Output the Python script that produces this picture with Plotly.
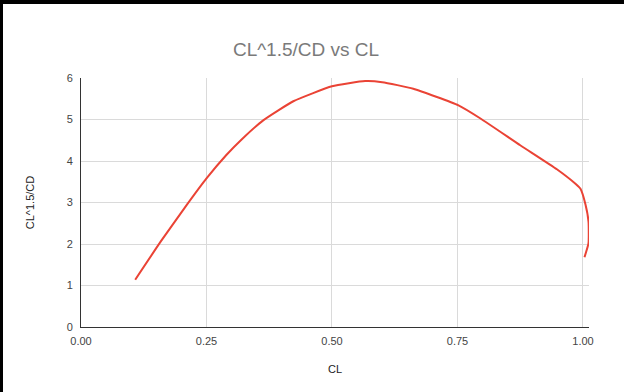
import plotly.graph_objects as go

# Lift coefficient and the endurance parameter CL^1.5/CD from the polar sweep
cl = [0.108, 0.160, 0.210, 0.250, 0.290, 0.320, 0.363, 0.423, 0.500, 0.566,
      0.600, 0.662, 0.752, 0.795, 0.875, 0.948, 0.985, 0.995, 1.005, 1.011,
      1.011, 1.003]
cl15_cd = [1.14, 2.08, 2.93, 3.58, 4.15, 4.52, 4.98, 5.44, 5.80, 5.925,
           5.90, 5.74, 5.34, 5.03, 4.38, 3.80, 3.45, 3.33, 2.95, 2.54,
           2.02, 1.68]

x_ticks = [0, 0.25, 0.5, 0.75, 1.0]
x_tick_text = ["0.00", "0.25", "0.50", "0.75", "1.00"]
y_ticks = [0, 1, 2, 3, 4, 5, 6]

W, H = 624, 392
L, R, T, B = 81, 35, 78, 65

fig = go.Figure()
fig.add_trace(go.Scatter(
    x=cl, y=cl15_cd, mode="lines", cliponaxis=False,
    line=dict(color="#ea4335", width=2, shape="spline", smoothing=0.45),
    showlegend=False, hoverinfo="x+y",
))

font = "Arial, Liberation Sans, sans-serif"

fig.update_layout(
    width=W, height=H,
    margin=dict(l=L, r=R, t=T, b=B, pad=0),
    paper_bgcolor="white", plot_bgcolor="white",
    font=dict(family=font, size=11, color="#444444"),
    title=dict(text="CL^1.5/CD vs CL", x=306 / W, xanchor="center",
               y=1 - 49.5 / H, yanchor="middle",
               font=dict(family=font, size=19, color="#7a7a7a")),
    xaxis=dict(
        range=[0, 1.012], tickvals=x_ticks, ticktext=x_tick_text,
        showgrid=True, gridcolor="#dadada", gridwidth=1,
        zeroline=False, showline=True, linecolor="#333333", linewidth=1,
        ticks="", ticklabelstandoff=4,
        tickfont=dict(size=11, color="#444444"),
        title=dict(text="CL", standoff=19, font=dict(size=11, color="#222222")),
    ),
    yaxis=dict(
        range=[0, 6], tickvals=y_ticks,
        showgrid=True, gridcolor="#dadada", gridwidth=1,
        zeroline=False, showline=True, linecolor="#333333", linewidth=1,
        ticks="", ticklabelstandoff=5,
        tickfont=dict(size=11, color="#444444"),
        title=dict(text="CL^1.5/CD", standoff=29, font=dict(size=11, color="#222222")),
    ),
)

# Dark frame edges along the top and left of the page
pw = W - L - R
ph = H - T - B
def px_x(p):
    return (p - L) / pw
def px_y(p):
    return (H - B - p) / ph

fig.add_shape(type="rect", xref="paper", yref="paper",
              x0=px_x(0), x1=px_x(W), y0=px_y(4), y1=px_y(0),
              fillcolor="black", line_width=0, layer="above")
fig.add_shape(type="rect", xref="paper", yref="paper",
              x0=px_x(0), x1=px_x(3), y0=px_y(H), y1=px_y(0),
              fillcolor="black", line_width=0, layer="above")

fig.write_html("out.html")
